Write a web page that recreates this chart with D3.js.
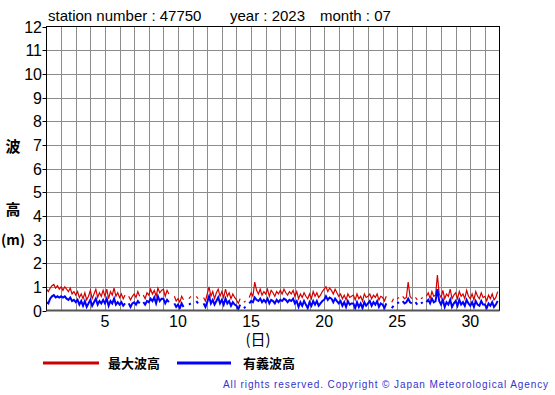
<!DOCTYPE html>
<html>
<head>
<meta charset="utf-8">
<script src="https://cdn.jsdelivr.net/npm/d3@7"></script>
<style>
  body { margin: 0; background: #fff; }
  text { font-family: "Liberation Sans", Arial, sans-serif; }
</style>
</head>
<body>
<svg id="chart" width="555" height="395"></svg>
<script>
// 3-hourly values (8 per day), null = missing
var hmaxByDay = [
  [0.9,0.8,0.95,1.05,1.1,0.95,1.05,0.9],
  [1.0,0.85,1.0,0.9,0.8,0.95,0.7,0.8],
  [0.65,0.8,0.55,0.7,0.5,0.75,0.45,0.6],
  [0.85,0.5,0.7,0.9,0.55,0.75,0.6,0.85],
  [0.6,0.9,0.5,0.8,0.65,0.95,0.6,0.75],
  [0.55,0.7,0.5,0.65,null,0.6,0.45,0.6],
  [0.7,0.55,0.8,0.6,null,0.65,0.5,0.75],
  [0.65,0.9,0.7,0.85,0.6,0.95,0.75,0.85],
  [0.9,0.6,0.85,0.7,null,null,0.6,0.4],
  [0.5,0.35,0.6,0.45,null,null,0.5,0.6],
  [null,null,0.6,0.5,null,null,0.55,0.4],
  [0.7,1.0,0.6,0.8,0.5,0.75,0.9,0.6],
  [0.8,0.55,0.9,0.6,0.75,0.5,0.7,0.55],
  [0.45,0.3,0.5,null,0.35,0.4,null,0.55],
  [0.75,0.6,1.2,0.85,0.7,0.9,0.65,0.8],
  [0.7,0.9,0.6,0.85,0.75,0.6,0.8,0.7],
  [0.85,0.7,0.9,0.75,0.65,0.8,0.7,0.85],
  [0.6,0.8,0.5,0.7,0.55,0.75,0.6,0.5],
  [0.7,0.5,0.8,0.6,0.75,0.55,0.65,0.8],
  [0.9,1.0,0.8,0.95,0.85,0.7,0.9,0.75],
  [0.6,0.7,0.5,0.65,0.45,0.7,0.55,0.6],
  [0.65,0.45,0.7,0.5,0.6,0.4,0.7,0.55],
  [0.6,0.7,0.5,0.65,0.55,0.7,0.45,0.6],
  [0.55,0.4,0.6,null,null,0.35,0.5,null],
  [0.5,0.55,null,0.6,0.5,0.55,1.2,0.6],
  [0.5,null,0.55,0.45,null,0.5,0.55,null],
  [0.6,0.75,0.5,0.8,0.6,0.65,1.5,0.7],
  [0.55,0.85,0.5,0.7,0.6,0.9,0.5,0.65],
  [0.75,0.5,0.8,0.6,0.7,0.5,0.85,0.6],
  [0.5,0.7,0.45,0.8,0.6,0.5,0.75,0.55],
  [0.6,0.4,0.65,0.5,0.7,0.45,0.55,0.8]
];
var hsByDay = [
  [0.35,0.3,0.5,0.6,0.65,0.55,0.6,0.55],
  [0.6,0.55,0.6,0.5,0.45,0.55,0.4,0.45],
  [0.35,0.45,0.25,0.4,0.2,0.4,0.15,0.3],
  [0.45,0.2,0.35,0.5,0.25,0.4,0.3,0.45],
  [0.3,0.5,0.2,0.4,0.3,0.5,0.25,0.35],
  [0.25,0.35,0.2,0.3,null,0.3,0.15,0.3],
  [0.35,0.25,0.4,0.3,null,0.35,0.25,0.4],
  [0.35,0.5,0.4,0.55,0.3,0.6,0.4,0.5],
  [0.5,0.3,0.45,0.35,null,null,0.3,0.15],
  [0.25,0.1,0.3,0.15,null,null,0.25,0.3],
  [null,null,0.4,0.3,null,null,0.3,0.15],
  [0.35,0.6,0.3,0.45,0.25,0.4,0.55,0.3],
  [0.45,0.25,0.5,0.3,0.4,0.2,0.35,0.25],
  [0.2,0.05,0.25,null,0.1,0.15,null,0.3],
  [0.4,0.35,0.55,0.45,0.4,0.5,0.35,0.45],
  [0.35,0.5,0.3,0.45,0.4,0.3,0.45,0.35],
  [0.45,0.4,0.5,0.45,0.35,0.45,0.4,0.5],
  [0.3,0.4,0.15,0.35,0.2,0.4,0.25,0.1],
  [0.35,0.2,0.4,0.25,0.4,0.2,0.3,0.4],
  [0.45,0.6,0.45,0.55,0.5,0.35,0.5,0.4],
  [0.3,0.4,0.2,0.35,0.15,0.4,0.25,0.3],
  [0.3,0.1,0.35,0.15,0.3,0.1,0.35,0.2],
  [0.3,0.4,0.2,0.35,0.25,0.4,0.15,0.3],
  [0.25,0.1,0.3,null,null,0.1,0.2,null],
  [0.3,0.35,null,0.4,0.3,0.35,0.5,0.35],
  [0.3,null,0.35,0.25,null,0.3,0.35,null],
  [0.35,0.45,0.3,0.5,0.35,0.4,0.9,0.4],
  [0.25,0.45,0.15,0.35,0.25,0.45,0.15,0.3],
  [0.4,0.2,0.45,0.25,0.35,0.2,0.45,0.3],
  [0.2,0.35,0.15,0.4,0.25,0.2,0.4,0.25],
  [0.25,0.1,0.3,0.2,0.35,0.15,0.25,0.4]
];
var xTicks = [5, 10, 15, 20, 25, 30];
var yTicks = [0,1,2,3,4,5,6,7,8,9,10,11,12];
var stationNo = "47750", year = "2023", month = "07";

var svg = d3.select("#chart");
var pL = 46.5, pR = 499.5, pT = 26.5, pB = 310.5;

var x = d3.scaleLinear().domain([1, 32]).range([pL, pR]);
var y = d3.scaleLinear().domain([0, 12]).range([pB, pT]);

function flatten(byDay) {
	var out = [];
	byDay.forEach(function(day, d) {
		day.forEach(function(v, i) {
			out.push({ t: 1 + d + i / 8, v: v });
		});
	});
	return out;
}
var hmax = flatten(hmaxByDay), hs = flatten(hsByDay);

// grid
var g = svg.append("g");
g.selectAll(".vg").data(d3.range(2, 32)).enter().append("line")
	.attr("x1", function(d) { return Math.round(x(d)) + 0.5; })
	.attr("x2", function(d) { return Math.round(x(d)) + 0.5; })
	.attr("y1", pT).attr("y2", pB)
	.attr("stroke", "#8c8c8c").attr("stroke-width", 1);
g.selectAll(".hg").data(d3.range(1, 12)).enter().append("line")
	.attr("y1", function(d) { return Math.round(y(d)) + 0.5; })
	.attr("y2", function(d) { return Math.round(y(d)) + 0.5; })
	.attr("x1", pL).attr("x2", pR)
	.attr("stroke", "#8c8c8c").attr("stroke-width", 1);

// y tick marks
g.selectAll(".yt").data(yTicks).enter().append("line")
	.attr("x1", pL - 4).attr("x2", pL)
	.attr("y1", function(d) { return Math.round(y(d)) + 0.5; })
	.attr("y2", function(d) { return Math.round(y(d)) + 0.5; })
	.attr("stroke", "#000");

// data lines
var line = d3.line()
	.defined(function(d) { return d.v != null; })
	.x(function(d) { return x(d.t); })
	.y(function(d) { return y(d.v); });

svg.append("path").datum(hmax).attr("d", line)
	.attr("fill", "none").attr("stroke", "#d40000").attr("stroke-width", 1.2);
svg.append("path").datum(hs).attr("d", line)
	.attr("fill", "none").attr("stroke", "#0000ff").attr("stroke-width", 2);

// frame
svg.append("rect").attr("x", pL).attr("y", pT)
	.attr("width", pR - pL).attr("height", pB - pT)
	.attr("fill", "none").attr("stroke", "#000").attr("stroke-width", 1);
svg.append("line").attr("x1", pL).attr("x2", pR)
	.attr("y1", pB).attr("y2", pB)
	.attr("stroke", "#555").attr("stroke-width", 2);

// tick labels
svg.selectAll(".yl").data(yTicks).enter().append("text")
	.attr("x", 42).attr("y", function(d) { return y(d) + 6; })
	.attr("text-anchor", "end").attr("font-size", 16)
	.text(function(d) { return d; });
svg.selectAll(".xl").data(xTicks).enter().append("text")
	.attr("x", function(d) { return x(d); }).attr("y", 327)
	.attr("text-anchor", "middle").attr("font-size", 16)
	.text(function(d) { return d; });

// titles
svg.append("text").attr("x", 48).attr("y", 21).attr("font-size", 15)
	.text("station number : " + stationNo);
svg.append("text").attr("x", 230).attr("y", 21).attr("font-size", 15)
	.text("year : " + year);
svg.append("text").attr("x", 320).attr("y", 21).attr("font-size", 15)
	.text("month : " + month);

var cjk = "'Noto Sans CJK JP', sans-serif";
svg.append("text").attr("x", 258).attr("y", 345).attr("text-anchor", "middle")
	.attr("font-size", 15).style("font-family", cjk).text("(日)");
svg.append("text").attr("x", 13).attr("y", 152).attr("text-anchor", "middle")
	.attr("font-size", 15).style("font-family", cjk).attr("font-weight", "bold").text("波");
svg.append("text").attr("x", 13).attr("y", 215).attr("text-anchor", "middle")
	.attr("font-size", 15).style("font-family", cjk).attr("font-weight", "bold").text("高");
svg.append("text").attr("x", 13).attr("y", 245).attr("text-anchor", "middle")
	.attr("font-size", 14).style("font-family", cjk).attr("font-weight", "bold").text("(m)");

// legend
svg.append("line").attr("x1", 43).attr("x2", 99).attr("y1", 363).attr("y2", 363)
	.attr("stroke", "#cc0000").attr("stroke-width", 3);
svg.append("text").attr("x", 108).attr("y", 368).attr("font-size", 13)
	.style("font-family", cjk).attr("font-weight", "bold").text("最大波高");
svg.append("line").attr("x1", 177).attr("x2", 231).attr("y1", 363).attr("y2", 363)
	.attr("stroke", "#0000ff").attr("stroke-width", 3);
svg.append("text").attr("x", 243).attr("y", 368).attr("font-size", 13)
	.style("font-family", cjk).attr("font-weight", "bold").text("有義波高");

svg.append("text").attr("x", 549).attr("y", 388).attr("text-anchor", "end")
	.attr("font-size", 10).attr("fill", "#3333cc").attr("letter-spacing", 0.9)
	.text("All rights reserved. Copyright \u00a9 Japan Meteorological Agency");
</script>
</body>
</html>
